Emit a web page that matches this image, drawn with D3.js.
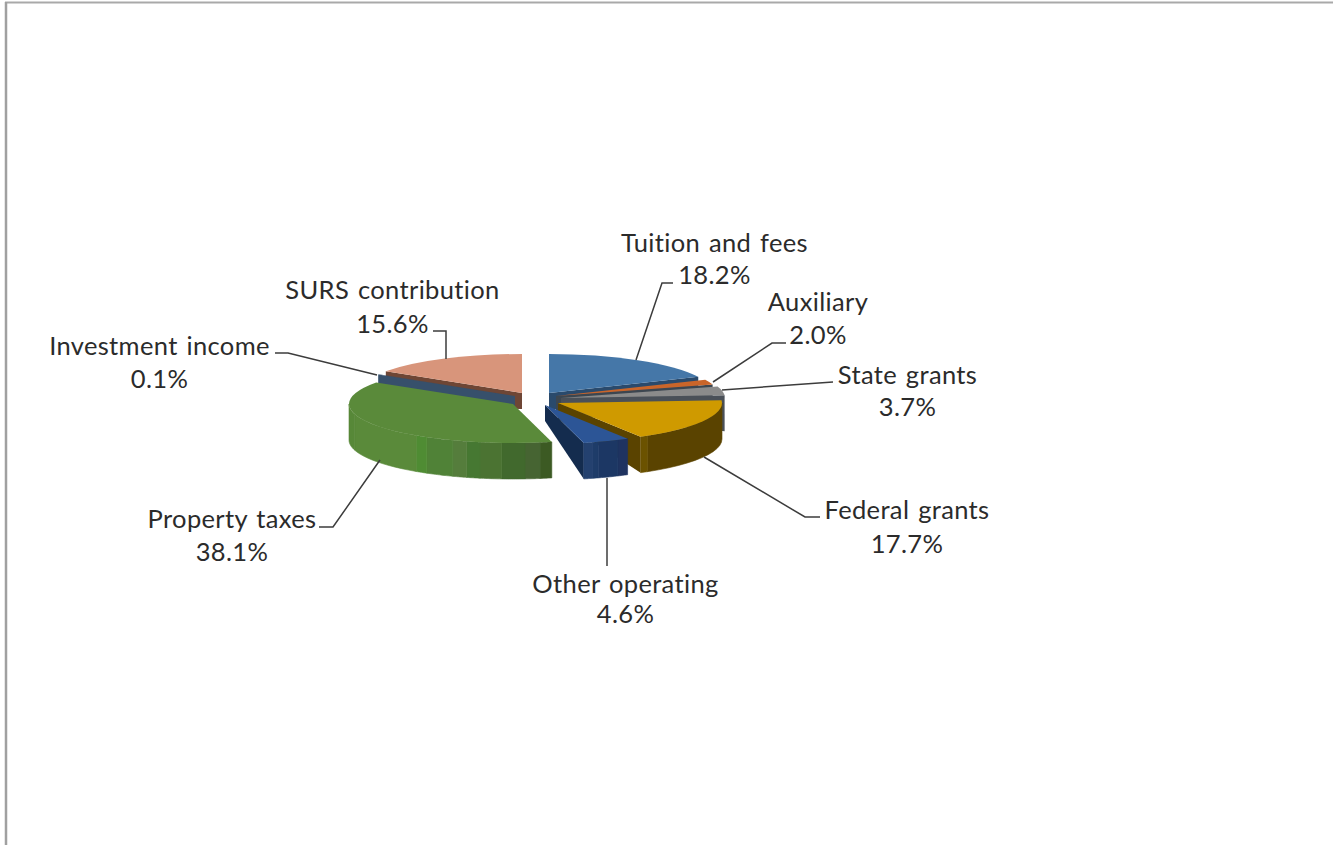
<!DOCTYPE html>
<html>
<head>
<meta charset="utf-8">
<style>
  html, body { margin: 0; padding: 0; background: #fff; }
  svg { display: block; }
  text { font-family: Lato, "Open Sans", sans-serif; font-size: 25.5px; letter-spacing: 0.35px; word-spacing: 2px;
         font-variant-ligatures: none; fill: #2b2b2b; text-anchor: middle; }
</style>
<script src="https://cdn.jsdelivr.net/npm/d3@7/dist/d3.min.js"></script>
</head>
<body>
<svg id="chart" width="1333" height="845"></svg>
<script>
// Revenue share by source, clockwise from twelve o'clock.
const categories = ["Tuition and fees", "Auxiliary", "State grants", "Federal grants",
                    "Other operating", "Property taxes", "Investment income", "SURS contribution"];
const shares = [18.2, 2.0, 3.7, 17.7, 4.6, 38.1, 0.1, 15.6];

const topColors  = ["#4577a8", "#c9652a", "#8b8b8b", "#cf9a00", "#2c5596", "#5a8a3a", "#37506b", "#d8957b"];
const faceColors = ["#2a4a6c", "#3c4650", "#4a5058", "#5a4300", "#142c4e", "#3f6228", "#37506b", "#6e4635"];

// Rim shading of the front-facing wall: [end angle in degrees, colour].
const rimBands = {
  "Federal grants": [[147, "#5a4300"], [149.7, "#6b5200"]],
  "Other operating": [[153.6, "#1f3360"], [161, "#1c3764"], [163, "#1e3c69"], [166.3, "#24416f"]],
  "Property taxes": [[170.5, "#3c5a23"], [175.8, "#466432"], [184, "#41692d"], [191.6, "#4b7332"],
                     [196.4, "#467832"], [201.5, "#557d3c"], [211.7, "#508237"], [216.2, "#4f8c33"],
                     [255, "#5a8a3a"], [270, "#578838"]]
};

// Exploded position of each slice's apex on the page.
const apexX = [549, 556, 561, 558, 545, 513, 515, 522];
const apexY = [393, 396, 398, 403, 405, 404, 396, 393];

// Label centres and baselines for name / value lines.
const labelX = [714.5, 818, 907.5, 907, 625.5, 232, 159.5, 392.5];
const nameY  = [252, 311, 384, 519, 592.5, 528, 355, 299];
const valueY = [283.5, 343.5, 415.5, 552.5, 623, 560.5, 387.5, 332.5];

// Leader polylines, slice end first.
const leaders = [
  [[636, 360], [662, 283], [673, 283]],
  [[713, 382], [772, 343], [786, 343]],
  [[722, 390], [833, 382]],
  [[704, 457], [805, 517], [820, 517]],
  [[607, 478], [607, 566]],
  [[380, 460], [333, 527], [319, 527]],
  [[377, 375], [288, 353], [275, 353]],
  [[446, 359], [446, 331], [433, 331]]
];

// Back-to-front painting order (indices into categories).
const paintOrder = [7, 0, 6, 1, 2, 5, 3, 4];

const rx = 164, ry = 39, rimDepth = 36, apexDepth = 16;
const svg = d3.select("#chart");
const rad = d3.scaleLinear().domain([0, 360]).range([0, 2 * Math.PI]);

const slices = d3.pie().sort(null).value(d => d)(shares);
const topArc = d3.arc().innerRadius(0).outerRadius(rx);
const rimPoint = (i, a, dy = 0) => [apexX[i] + rx * Math.sin(a), apexY[i] - ry * Math.cos(a) + dy];
const polyline = d3.line();

// Page frame
svg.append("line").attr("x1", 5).attr("x2", 1333).attr("y1", 2.5).attr("y2", 2.5)
  .attr("stroke", "#a9a9a9").attr("stroke-width", 2);
svg.append("line").attr("x1", 6).attr("x2", 6).attr("y1", 2).attr("y2", 845)
  .attr("stroke", "#a0a0a0").attr("stroke-width", 2.5);

const pieLayer = svg.append("g");

function drawRimFacet(g, i, a0, a1, color) {
  const steps = d3.range(0, 13).map(t => a0 + (a1 - a0) * t / 12);
  const upper = steps.map(a => rimPoint(i, a));
  const lower = steps.slice().reverse().map(a => rimPoint(i, a, rimDepth));
  g.append("path").attr("d", polyline(upper.concat(lower)) + "Z")
    .attr("fill", color).attr("stroke", color).attr("stroke-width", 0.6);
}

paintOrder.forEach(i => {
  const s = slices[i];
  const g = pieLayer.append("g").attr("class", "slice");

  // Radial cut faces turned toward the viewer
  [{ a: s.startAngle, seen: Math.sin(s.startAngle) < -1e-6 },
   { a: s.endAngle,   seen: Math.sin(s.endAngle) > 1e-6 }]
    .filter(f => f.seen)
    .forEach(f => {
      const pts = [[apexX[i], apexY[i]], rimPoint(i, f.a), rimPoint(i, f.a, rimDepth),
                   [apexX[i], apexY[i] + apexDepth]];
      g.append("path").attr("d", polyline(pts) + "Z").attr("fill", faceColors[i]);
    });

  // Outer wall, only the part on the near half of the ellipse
  const near0 = Math.max(s.startAngle, rad(90));
  const near1 = Math.min(s.endAngle, rad(270));
  if (near1 > near0) {
    let from = near0;
    const bands = rimBands[categories[i]] || [[360, faceColors[i]]];
    bands.forEach(([endDeg, color]) => {
      const to = Math.min(rad(endDeg), near1);
      if (to > from) { drawRimFacet(g, i, from, to, color); from = to; }
    });
  }

  // Top surface
  g.append("path")
    .attr("d", topArc({ startAngle: s.startAngle, endAngle: s.endAngle }))
    .attr("transform", `translate(${apexX[i]},${apexY[i]}) scale(1,${ry / rx})`)
    .attr("fill", topColors[i]);
});

// Leader lines
svg.append("g").selectAll("path").data(leaders).join("path")
  .attr("d", d => polyline(d))
  .attr("fill", "none").attr("stroke", "#3c3c3c").attr("stroke-width", 1.5);

// Labels
const fmt = d3.format(".1f");
const labels = svg.append("g").selectAll("g").data(categories).join("g");
labels.append("text").attr("x", (d, i) => labelX[i]).attr("y", (d, i) => nameY[i]).text(d => d);
labels.append("text").attr("x", (d, i) => labelX[i]).attr("y", (d, i) => valueY[i])
  .text((d, i) => fmt(shares[i]) + "%");
</script>
</body>
</html>
